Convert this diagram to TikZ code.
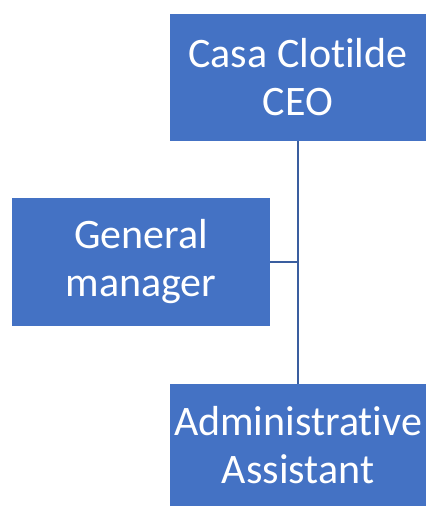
\documentclass[tikz,border=0pt]{standalone}
\usepackage{fontspec}
\setmainfont{Carlito}[RawFeature=-liga]
\usepackage{tikz}
\usetikzlibrary{positioning}

\definecolor{boxblue}{HTML}{4472C4}
\definecolor{lineblue}{HTML}{3A5E9F}

\tikzset{
    orgbox/.style={fill=boxblue, draw=none, text=white, align=center,
        font=\fontsize{42}{48}\selectfont, inner sep=0pt},
    orgline/.style={draw=lineblue, line width=2pt}
}

\begin{document}
\begin{tikzpicture}[x=1pt, y=-1pt]
        \useasboundingbox (0,0) rectangle (426,506);

        % boxes
        \node[orgbox, minimum width=256pt, minimum height=127pt] (ceo) at (298,77) {Casa Clotilde\\CEO};
        \node[orgbox, minimum width=258pt, minimum height=128pt] (gm) at (141,262) {General\\manager};
        \node[orgbox, minimum width=256pt, minimum height=122pt] (assist) at (298,445) {Administrative\\Assistant};

        % connectors
        \draw[orgline] (ceo.south) -- (assist.north);
        \draw[orgline] (gm.east) -- (gm.east -| ceo.south);
\end{tikzpicture}
\end{document}
